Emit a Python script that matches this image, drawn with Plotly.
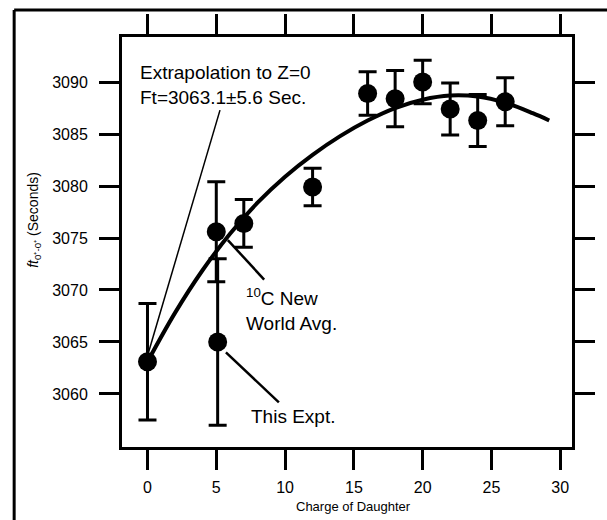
import plotly.graph_objects as go

# Superallowed 0+ -> 0+ Ft values versus charge of the daughter nucleus
charge = [7, 12, 16, 18, 20, 22, 24, 26]
ft = [3076.4, 3079.9, 3088.9, 3088.4, 3090.0, 3087.4, 3086.3, 3088.1]
ft_err = [2.3, 1.8, 2.1, 2.7, 2.1, 2.5, 2.5, 2.3]

# 10C points and the Z=0 extrapolation
c10_world_z, c10_world_ft, c10_world_err = [5], [3075.6], [4.8]
this_expt_z, this_expt_ft, this_expt_err = [5.1], [3065.0], [8.0]
extrap_z, extrap_ft, extrap_err = [0], [3063.1], [5.6]

# Smooth fitted curve
fit_z = [0, 2, 4, 6, 8, 10, 12, 14, 16, 18, 20, 22, 24, 26, 28, 29.2]
fit_ft = [3063.1, 3067.8, 3071.9, 3075.4, 3078.4, 3080.9, 3083.0, 3084.8,
          3086.3, 3087.5, 3088.3, 3088.7, 3088.6, 3088.0, 3087.0, 3086.3]

x_ticks = [0, 5, 10, 15, 20, 25, 30]
y_ticks = [3060, 3065, 3070, 3075, 3080, 3085, 3090]

FONT = "Liberation Sans, Arial, Helvetica, sans-serif"
INK = "black"


def points(z, v, err):
    return go.Scatter(
        x=z, y=v, mode="markers",
        marker=dict(symbol="circle", size=19, color=INK),
        error_y=dict(type="data", array=err, visible=True,
                     color=INK, thickness=3, width=9),
        showlegend=False, hoverinfo="x+y",
    )


fig = go.Figure()
fig.add_trace(go.Scatter(
    x=fit_z, y=fit_ft, mode="lines",
    line=dict(color=INK, width=4, shape="spline", smoothing=1.0),
    showlegend=False, hoverinfo="skip",
))
fig.add_trace(points(charge, ft, ft_err))
fig.add_trace(points(c10_world_z, c10_world_ft, c10_world_err))
fig.add_trace(points(this_expt_z, this_expt_ft, this_expt_err))
fig.add_trace(points(extrap_z, extrap_ft, extrap_err))

axis_common = dict(
    showline=True, linecolor=INK, linewidth=3, mirror="ticks",
    ticks="outside", ticklen=20, tickwidth=3, tickcolor=INK,
    showgrid=False, zeroline=False,
    tickfont=dict(family=FONT, size=16, color=INK),
)

fig.update_xaxes(range=[-1.853, 30.855], tickvals=x_ticks,
                 ticklabelstandoff=4, **axis_common)
fig.update_yaxes(range=[3054.9, 3094.33], tickvals=y_ticks,
                 ticklabelstandoff=8, **axis_common)

ann_font = dict(family=FONT, size=19, color=INK)
annotations = [
    dict(x=-0.71, y=3089.67, xref="x", yref="y", xanchor="left", yanchor="middle",
         text="Extrapolation to Z=0<br>Ft=3063.1±5.6 Sec.", align="left",
         showarrow=False, font=ann_font),
    dict(x=7.05, y=3068.1, xref="x", yref="y", xanchor="left", yanchor="middle",
         text="<sup>10</sup>C New<br>World Avg.", align="left",
         showarrow=False, font=ann_font),
    dict(x=7.41, y=3057.8, xref="x", yref="y", xanchor="left", yanchor="middle",
         text="This Expt.", align="left", showarrow=False, font=ann_font),
    dict(x=(32 - 122) / 459, y=(447 - 220) / 410, xref="paper", yref="paper",
         xanchor="center", yanchor="middle", textangle=-90,
         text="<i>ft</i><sub>0⁺-0⁺</sub> (Seconds)", showarrow=False,
         font=dict(family=FONT, size=14, color=INK)),
    dict(x=15, y=(447 - 507) / 410, xref="x", yref="paper",
         xanchor="center", yanchor="middle", text="Charge of Daughter",
         showarrow=False, font=dict(family=FONT, size=13, color=INK)),
]

# Pointer lines from the labels to their points
shapes = [
    dict(type="line", xref="x", yref="y", x0=5.27, y0=3087.3, x1=0.05, y1=3063.9,
         line=dict(color=INK, width=1.5)),
    dict(type="line", xref="x", yref="y", x0=5.84, y0=3074.8, x1=8.48, y1=3071.0,
         line=dict(color=INK, width=2.5)),
    dict(type="line", xref="x", yref="y", x0=5.7, y0=3064.0, x1=9.55, y1=3059.2,
         line=dict(color=INK, width=2.5)),
    # page frame along the top and left edges
    dict(type="line", xref="paper", yref="paper", x0=(12 - 122) / 459, x1=1.2,
         y0=(447 - 10) / 410, y1=(447 - 10) / 410, line=dict(color=INK, width=3)),
    dict(type="line", xref="paper", yref="paper", x0=(12 - 122) / 459,
         x1=(12 - 122) / 459, y0=(447 - 10) / 410, y1=-0.3,
         line=dict(color=INK, width=3)),
]

fig.update_layout(
    width=607, height=520,
    margin=dict(l=122, r=26, t=37, b=73),
    paper_bgcolor="white", plot_bgcolor="white",
    font=dict(family=FONT, color=INK),
    annotations=annotations, shapes=shapes,
    showlegend=False,
)

fig.write_html("out.html")
